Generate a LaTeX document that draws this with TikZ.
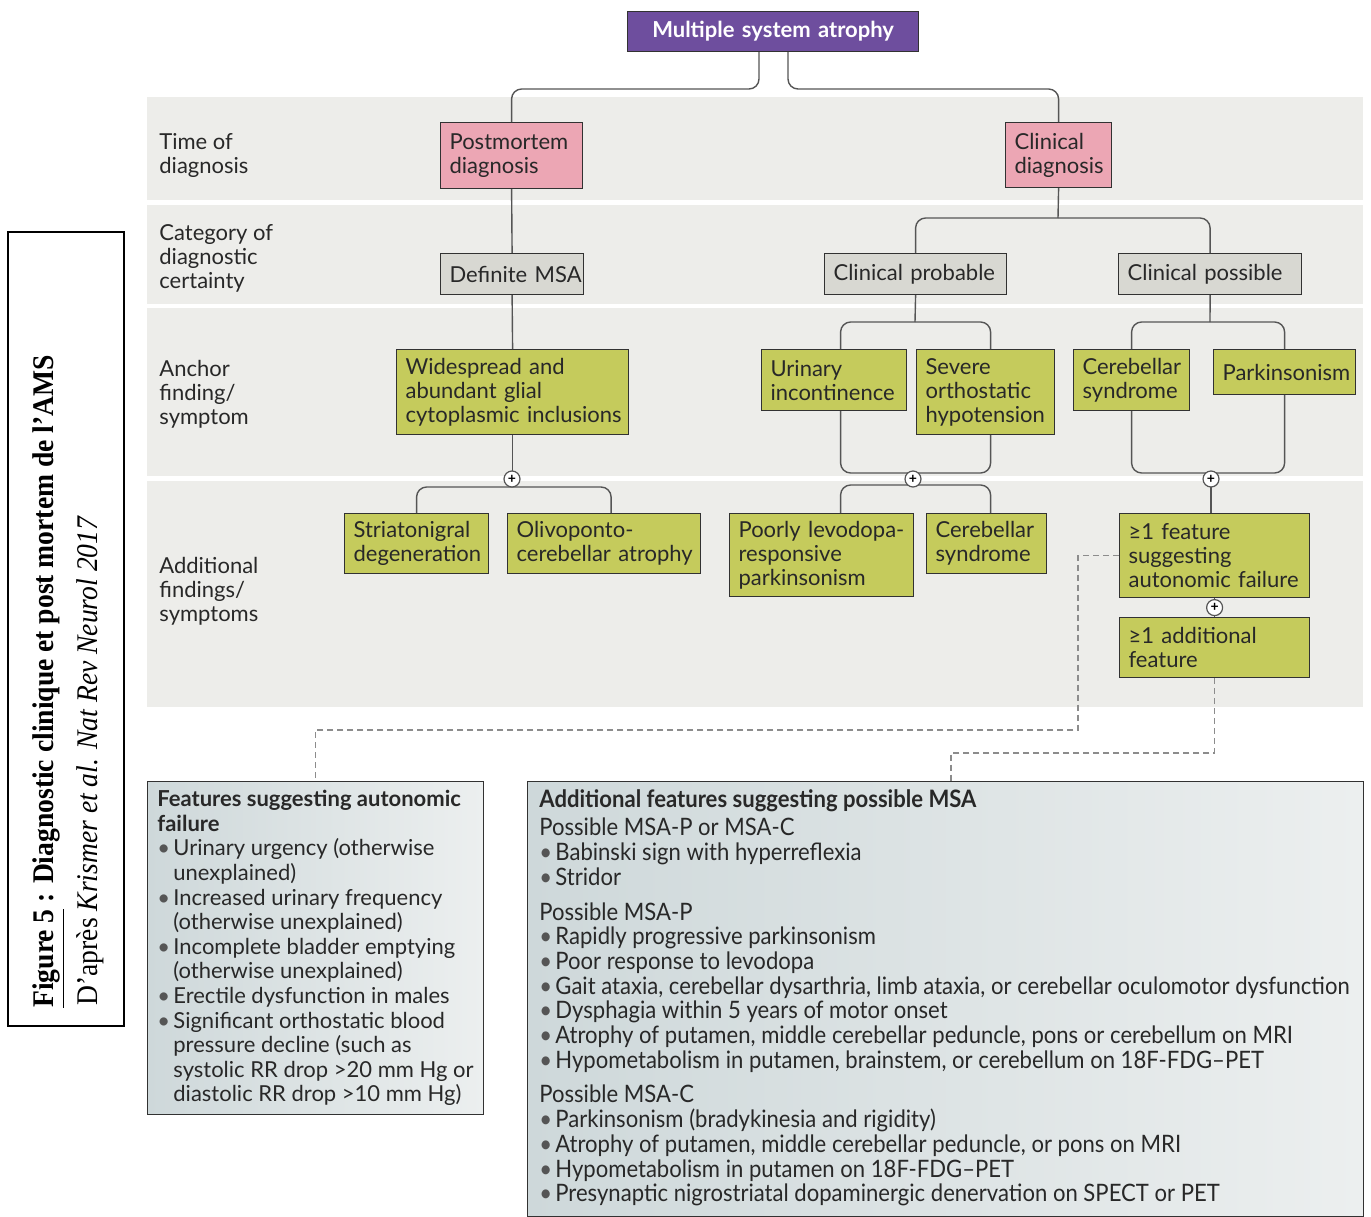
\documentclass[tikz,border=0pt]{standalone}
\usepackage{fontspec}
\setmainfont{Lato}
\newfontfamily\capfont[FakeStretch=0.92]{Liberation Serif}
\newfontfamily\narrowfont[FakeStretch=0.92]{Lato}
\usetikzlibrary{calc}

\definecolor{bandgrey}{RGB}{237,237,234}
\definecolor{msapurple}{RGB}{110,78,158}
\definecolor{pinkfill}{RGB}{236,166,180}
\definecolor{greyfill}{RGB}{216,216,210}
\definecolor{greenfill}{RGB}{197,203,92}
\definecolor{boxline}{RGB}{50,50,50}
\definecolor{linegrey}{RGB}{85,85,85}
\definecolor{dashgrey}{RGB}{140,140,140}
\definecolor{textdark}{RGB}{40,40,40}
\definecolor{infoleft}{RGB}{206,216,218}
\definecolor{inforight}{RGB}{236,239,239}

\newcommand{\bul}{\makebox[8pt][l]{\textcolor{linegrey}{\textbullet}}}
\newcommand{\ind}{\hspace*{8pt}}
\newcommand{\boxfont}{\fontsize{11}{12}\selectfont\hyphenpenalty=10000\exhyphenpenalty=10000}

\begin{document}
\begin{tikzpicture}[x=0.5pt,y=-0.5pt,
  box/.style={draw=boxline, line width=0.6pt, anchor=north west, align=left,
    inner xsep=4.5pt, inner ysep=0pt, font=\boxfont, text=textdark},
  titlebox/.style={box, fill=msapurple, text=white, align=center, font=\boxfont\bfseries},
  pinkbox/.style={box, fill=pinkfill},
  greybox/.style={box, fill=greyfill},
  greenbox/.style={box, fill=greenfill},
  conn/.style={draw=linegrey, line width=0.7pt, rounded corners=5pt},
  dashconn/.style={draw=dashgrey, line width=0.7pt, dash pattern=on 3pt off 2pt},
  plus/.style={circle, draw=linegrey, fill=white, line width=0.6pt, inner sep=0pt,
    minimum size=8pt, font=\fontsize{7}{7}\selectfont\bfseries},
  rowlabel/.style={anchor=north west, align=left, inner sep=0pt, font=\boxfont, text=textdark},
  infobox/.style={draw=boxline, line width=0.6pt, anchor=north west, inner sep=0pt,
    left color=infoleft, right color=inforight},
  infotext/.style={anchor=north west, align=left, inner sep=0pt, text=textdark,
    font=\fontsize{11}{12.3}\selectfont},
  capline/.style={rotate=90, anchor=base west, inner sep=0pt, font=\capfont\fontsize{15}{18}\selectfont}
]
\useasboundingbox (0,0) rectangle (1371,1216);

% bandes grises
\fill[bandgrey] (147,97) rectangle (1363,200);
\fill[bandgrey] (147,205) rectangle (1363,304);
\fill[bandgrey] (147,308) rectangle (1363,476);
\fill[bandgrey] (147,481) rectangle (1363,707);

% legende de gauche
\draw[black, line width=0.6pt] (8,232) rectangle (124,1026);
\node[capline] (capa) at (54,1008) {\textbf{\underline{Figure 5} : Diagnostic clinique et post mortem de l’AMS}};
\node[capline] (capb) at (97,1006) {D’après \textit{Krismer et al. Nat Rev Neurol 2017}};

% titres des lignes
\node[rowlabel] (rtime) at (159,133) {Time of\\diagnosis};
\node[rowlabel] (rcat) at (159,224) {Category of\\diagnostic\\certainty};
\node[rowlabel] (ranchor) at (159,360) {Anchor\\finding/\\symptom};
\node[rowlabel] (radd) at (159,557) {Additional\\findings/\\symptoms};

% boites
\node[titlebox, text width=136.5pt, minimum height=20pt] (msa) at (627,11) {Multiple~system~atrophy};
\node[pinkbox, text width=62pt, minimum height=33pt] (post) at (440,122) {Postmortem\\diagnosis};
\node[pinkbox, text width=44pt, minimum height=32.5pt] (clin) at (1005,122) {Clinical\\diagnosis};
\node[greybox, text width=62.5pt, minimum height=20.5pt] (defin) at (440,253) {Definite~MSA};
\node[greybox, text width=82pt, minimum height=20.5pt] (cprob) at (824,253) {Clinical~probable};
\node[greybox, text width=82.5pt, minimum height=20.5pt] (cposs) at (1118,253) {Clinical~possible};
\node[greenbox, text width=107pt, minimum height=42.5pt] (wide) at (396,349) {Widespread~and\\abundant~glial\\cytoplasmic~inclusions};
\node[greenbox, text width=63.5pt, minimum height=30.5pt] (urin) at (761,349) {Urinary\\incontinence};
\node[greenbox, text width=60pt, minimum height=42.5pt] (sev) at (916,349) {Severe\\orthostatic\\hypotension};
\node[greenbox, text width=49pt, minimum height=30.5pt] (cereba) at (1073,349) {Cerebellar\\syndrome};
\node[greenbox, text width=62pt, minimum height=22.5pt] (parkin) at (1213,349) {Parkinsonism};
\node[greenbox, text width=63pt, minimum height=30pt] (stria) at (344,513) {Striatonigral\\degeneration};
\node[greenbox, text width=87.5pt, minimum height=30pt] (olivo) at (507,513) {Olivoponto-\\cerebellar~atrophy};
\node[greenbox, text width=83pt, minimum height=41.5pt] (poorly) at (729,513) {Poorly~levodopa-\\responsive\\parkinsonism};
\node[greenbox, text width=51pt, minimum height=30pt] (cerebb) at (926,513) {Cerebellar\\syndrome};
\node[greenbox, text width=86pt, minimum height=42pt] (auton) at (1119,513) {≥1~feature\\suggesting\\autonomic~failure};
\node[greenbox, text width=86pt, minimum height=30pt] (addit) at (1119,617) {≥1~additional\\feature};

% points de jonction
\coordinate (ja) at (759,89);
\coordinate (jb) at (788,89);
\coordinate (jc) at (1058,218);
\coordinate (ka) at (512,487);
\coordinate (kb) at (915,322);
\coordinate (kc) at (913,473);
\coordinate (kd) at (913,485);
\coordinate (ke) at (1210,322);
\coordinate (kf) at (1211,473);

% liaisons
\draw[conn] (msa.south -| ja) -- (ja) -| (post.north);
\draw[conn] (msa.south -| jb) -- (jb) -| (clin.north);
\draw[conn] (post.south) -- (defin.north);
\draw[conn] (defin.south) -- (wide.north);
\draw[conn] (clin.south) -- (jc);
\draw[conn] (cprob.north) |- (jc) -| (cposs.north);
\draw[conn] (cprob.south) -- (kb);
\draw[conn] ([xshift=3.25pt]urin.north) |- (kb) -| ([xshift=2.5pt]sev.north);
\draw[conn] ([xshift=3.25pt]urin.south) |- (kc) -| ([xshift=2.5pt]sev.south);
\draw[conn] ([xshift=9.5pt]poorly.north) |- (kd) -| ([xshift=2pt]cerebb.north);
\draw[conn] (cposs.south) -- (ke);
\draw[conn] (cereba.north) |- (ke) -| (parkin.north);
\draw[conn] (cereba.south) |- (kf) -| (parkin.south);
\draw[conn] (wide.south) -- (wide.south |- ka);
\draw[conn] (stria.north) |- (ka) -| ([xshift=3.5pt]olivo.north);
\draw[conn] (kf) -- (kf |- auton.north);
\draw[conn] (auton.south) -- (addit.north);

% signes plus
\node[plus] (pla) at (512,479) {+};
\node[plus] (plb) at (913,479) {+};
\node[plus] (plc) at (1211,479) {+};
\node[plus] (pld) at ($(auton.south)!0.5!(addit.north)$) {+};

% encadres du bas
\node[infobox, minimum width=168pt, minimum height=166.5pt] (featbox) at (147,781) {};
\node[infobox, minimum width=418pt, minimum height=217.5pt] (addbox) at (527,781) {};

\coordinate (db) at (1078,730);
\coordinate (dd) at (951,753);
\draw[dashconn] (auton.west) -| (db) -| (featbox.north);
\draw[dashconn] (addit.south) |- (dd) -- (dd |- addbox.north);

\node[infotext] (feattext) at (157,790) {\textbf{Features suggesting autonomic}\\
\textbf{failure}\\
\bul Urinary urgency (otherwise\\
\ind unexplained)\\
\bul Increased urinary frequency\\
\ind (otherwise unexplained)\\
\bul Incomplete bladder emptying\\
\ind (otherwise unexplained)\\
\bul Erectile dysfunction in males\\
\bul Significant orthostatic blood\\
\ind pressure decline (such as\\
\ind systolic RR drop >20 mm Hg or\\
\ind diastolic RR drop >10 mm Hg)};

\node[infotext, font=\narrowfont\fontsize{12}{12.35}\selectfont] (addtext) at (539,789) {\textbf{Additional features suggesting possible MSA}\\[2pt]
Possible MSA-P or MSA-C\\
\bul Babinski sign with hyperreflexia\\
\bul Stridor\\[5pt]
Possible MSA-P\\
\bul Rapidly progressive parkinsonism\\
\bul Poor response to levodopa\\
\bul Gait ataxia, cerebellar dysarthria, limb ataxia, or cerebellar oculomotor dysfunction\\
\bul Dysphagia within 5 years of motor onset\\
\bul Atrophy of putamen, middle cerebellar peduncle, pons or cerebellum on MRI\\
\bul Hypometabolism in putamen, brainstem, or cerebellum on 18F-FDG–PET\\[5pt]
Possible MSA-C\\
\bul Parkinsonism (bradykinesia and rigidity)\\
\bul Atrophy of putamen, middle cerebellar peduncle, or pons on MRI\\
\bul Hypometabolism in putamen on 18F-FDG–PET\\
\bul Presynaptic nigrostriatal dopaminergic denervation on SPECT or PET};
\end{tikzpicture}
\end{document}
